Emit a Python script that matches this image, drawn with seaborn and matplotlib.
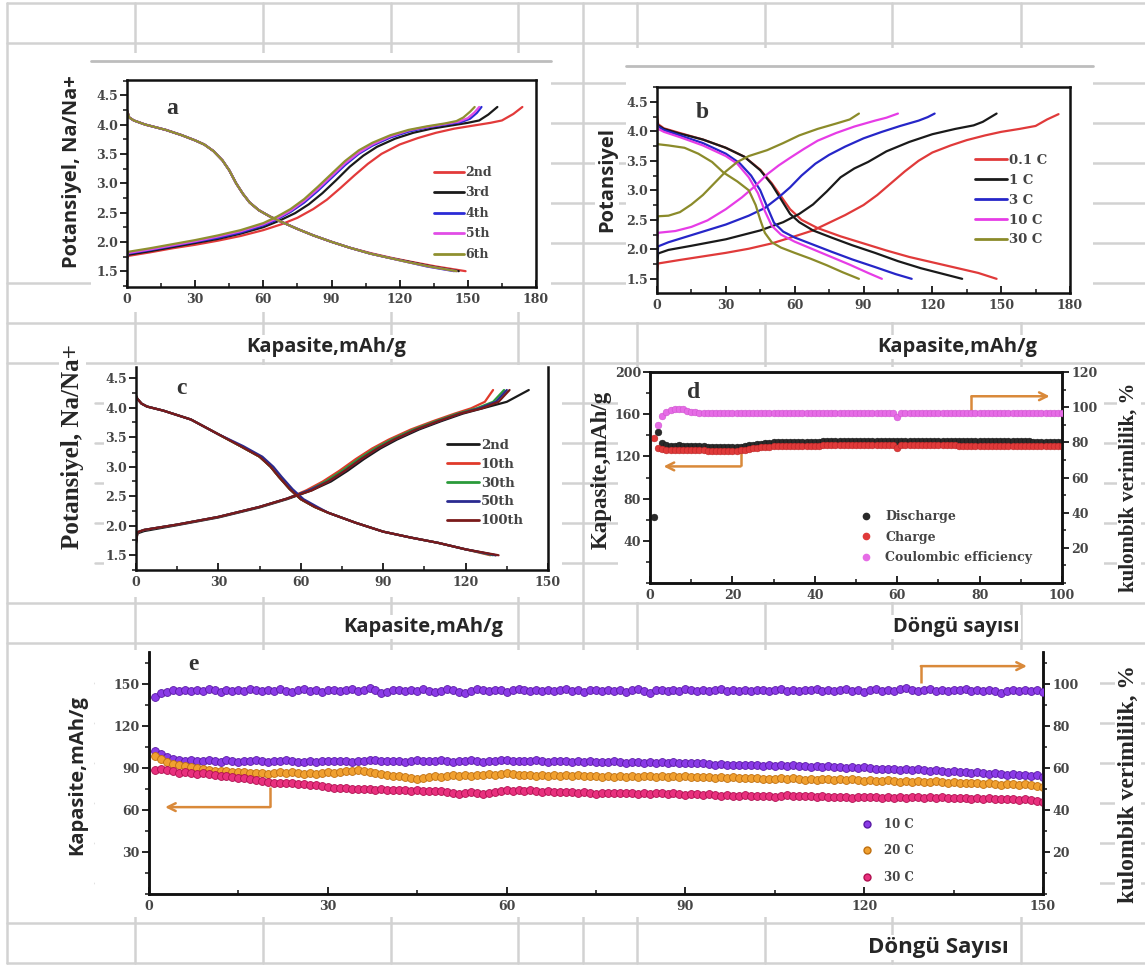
import numpy as np
import pandas as pd
import matplotlib
matplotlib.use("Agg")
import matplotlib.pyplot as plt
import seaborn as sns
from matplotlib.lines import Line2D
from matplotlib.patches import Rectangle
from matplotlib.ticker import MultipleLocator, FormatStrFormatter, FixedLocator

sns.set_theme(style="white")
plt.rcParams["font.family"] = ["DejaVu Serif"]
plt.rcParams["font.weight"] = "bold"

# ======================= DATA =======================
# ---- panel a : charge/discharge profiles, cycles 2-6 ----
A_CYCLES = ["2nd", "3rd", "4th", "5th", "6th"]
A_COLORS = ["#e23a3a", "#1a1a1a", "#2b2bd6", "#e14de6", "#8f9030"]
A_CHG_X_2 = [0, 0.5, 10, 20, 30, 40, 50, 60, 68, 75, 82, 88, 94, 100, 106, 112, 120, 128, 136, 144, 152, 160, 165, 170, 174]
A_CHG_V_2 = [1.7, 1.76, 1.82, 1.89, 1.95, 2.02, 2.1, 2.2, 2.3, 2.41, 2.56, 2.72, 2.92, 3.13, 3.33, 3.5, 3.66, 3.77, 3.86, 3.93, 3.98, 4.03, 4.07, 4.18, 4.3]
A_CHG_X_3 = [0, 0.5, 10, 20, 30, 40, 50, 60, 67, 74, 80, 86, 92, 98, 104, 110, 118, 126, 134, 142, 150, 155, 159, 163]
A_CHG_V_3 = [1.72, 1.78, 1.84, 1.91, 1.98, 2.05, 2.14, 2.25, 2.36, 2.49, 2.64, 2.83, 3.05, 3.28, 3.47, 3.62, 3.76, 3.86, 3.93, 3.98, 4.03, 4.07, 4.17, 4.3]
A_CHG_X_4 = [0, 0.5, 10, 20, 30, 40, 50, 60, 66, 72, 78, 84, 90, 96, 102, 108, 116, 124, 132, 140, 147, 151, 154, 156]
A_CHG_V_4 = [1.73, 1.8, 1.86, 1.93, 2.0, 2.07, 2.16, 2.28, 2.38, 2.51, 2.67, 2.87, 3.09, 3.31, 3.5, 3.64, 3.78, 3.88, 3.95, 4.0, 4.04, 4.1, 4.2, 4.3]
A_CHG_X_5 = [0, 0.5, 10, 20, 30, 40, 50, 60, 66, 72, 78, 84, 90, 96, 102, 108, 116, 124, 132, 140, 146, 150, 153, 155]
A_CHG_V_5 = [1.74, 1.81, 1.87, 1.94, 2.01, 2.09, 2.18, 2.3, 2.4, 2.53, 2.7, 2.9, 3.12, 3.34, 3.52, 3.66, 3.8, 3.9, 3.96, 4.01, 4.05, 4.11, 4.21, 4.3]
A_CHG_X_6 = [0, 0.5, 10, 20, 30, 40, 50, 60, 66, 72, 78, 84, 90, 96, 102, 108, 116, 124, 132, 140, 145, 148, 151, 153]
A_CHG_V_6 = [1.76, 1.83, 1.89, 1.96, 2.03, 2.11, 2.2, 2.32, 2.43, 2.56, 2.73, 2.94, 3.16, 3.38, 3.56, 3.69, 3.82, 3.91, 3.97, 4.02, 4.06, 4.12, 4.22, 4.3]
A_DIS_V = [4.24, 4.12, 4.07, 4.0, 3.91, 3.82, 3.73, 3.66, 3.55, 3.39, 3.22, 3.0, 2.82, 2.67, 2.54, 2.43, 2.34, 2.22, 2.11, 2.0, 1.9, 1.8, 1.73, 1.66, 1.58, 1.5]
A_DIS_X_2 = [0, 1, 3, 8, 17, 24, 30, 34, 38, 42, 45, 48, 51, 54, 58, 63, 68, 75, 82, 90, 98, 108, 116, 125, 136, 149]
A_DIS_X_3 = [0, 1, 3, 8, 17, 24, 30, 34, 38, 42, 45, 48, 51, 54, 58, 63, 68, 75, 82, 90, 98, 107, 115, 124, 134, 146]
A_DIS_X_4 = [0, 1, 3, 8, 17, 24, 30, 34, 38, 42, 45, 48, 51, 54, 58, 63, 68, 75, 82, 90, 98, 107, 115, 123, 132, 144]
A_DIS_X_5 = [0, 1, 3, 8, 17, 24, 30, 34, 38, 42, 45, 48, 51, 54, 58, 63, 68, 75, 82, 90, 98, 107, 115, 123, 133, 145]
A_DIS_X_6 = [0, 1, 3, 8, 17, 24, 30, 34, 38, 42, 45, 48, 51, 54, 58, 63, 68, 75, 82, 90, 98, 107, 115, 123, 133, 145]

# ---- panel b : rate profiles ----
B_RATES = ["0.1 C", "1 C", "3 C", "10 C", "30 C"]
B_COLORS = ["#e03a3a", "#1a1a1a", "#2626c8", "#e63ce6", "#8b8b2a"]
B_CHG_X_01 = [0, 0.5, 10, 20, 30, 40, 50, 60, 68, 75, 82, 90, 96, 102, 108, 114, 120, 128, 135, 143, 150, 158, 165, 170, 175]
B_CHG_V_01 = [1.62, 1.76, 1.82, 1.88, 1.94, 2.01, 2.1, 2.22, 2.32, 2.45, 2.58, 2.75, 2.92, 3.12, 3.32, 3.5, 3.64, 3.76, 3.85, 3.93, 3.99, 4.04, 4.09, 4.2, 4.29]
B_CHG_X_1 = [0, 0.5, 5, 15, 30, 45, 55, 62, 68, 74, 80, 86, 92, 100, 110, 120, 130, 138, 142, 145, 148]
B_CHG_V_1 = [1.75, 1.93, 1.99, 2.06, 2.17, 2.32, 2.46, 2.6, 2.76, 2.98, 3.22, 3.37, 3.48, 3.66, 3.82, 3.95, 4.04, 4.1, 4.16, 4.23, 4.3]
B_CHG_X_3 = [0, 0.5, 5, 15, 30, 40, 47, 53, 58, 63, 69, 75, 82, 90, 98, 106, 114, 118, 121]
B_CHG_V_3 = [1.85, 2.05, 2.12, 2.24, 2.42, 2.57, 2.7, 2.88, 3.05, 3.25, 3.45, 3.6, 3.74, 3.88, 3.99, 4.09, 4.18, 4.24, 4.3]
B_CHG_X_10 = [0, 0.5, 8, 15, 22, 30, 37, 43, 48, 53, 58, 64, 70, 78, 86, 95, 100, 105]
B_CHG_V_10 = [2.15, 2.28, 2.31, 2.38, 2.49, 2.68, 2.88, 3.08, 3.27, 3.42, 3.55, 3.7, 3.84, 3.97, 4.08, 4.18, 4.23, 4.3]
B_CHG_X_30 = [0, 0.5, 5, 10, 15, 20, 25, 30, 35, 40, 48, 55, 62, 70, 78, 84, 88]
B_CHG_V_30 = [2.45, 2.56, 2.57, 2.63, 2.76, 2.92, 3.12, 3.32, 3.48, 3.58, 3.68, 3.8, 3.93, 4.04, 4.13, 4.2, 4.3]
B_DIS_X_01 = [0, 0.5, 3, 10, 20, 30, 38, 45, 50, 54, 58, 63, 70, 80, 90, 100, 110, 120, 130, 140, 148]
B_DIS_V_01 = [4.28, 4.12, 4.05, 3.97, 3.86, 3.72, 3.57, 3.35, 3.12, 2.9, 2.68, 2.5, 2.36, 2.22, 2.1, 1.98, 1.87, 1.78, 1.69, 1.6, 1.5]
B_DIS_X_1 = [0, 0.5, 3, 10, 20, 30, 38, 45, 50, 54, 58, 62, 68, 76, 85, 95, 105, 115, 125, 133]
B_DIS_V_1 = [4.2, 4.1, 4.04, 3.96, 3.86, 3.72, 3.57, 3.34, 3.1, 2.85, 2.6, 2.46, 2.32, 2.2, 2.07, 1.94, 1.8, 1.68, 1.58, 1.5]
B_DIS_X_3 = [0, 0.5, 3, 10, 20, 30, 36, 41, 45, 48, 51, 55, 60, 68, 76, 85, 95, 104, 111]
B_DIS_V_3 = [4.15, 4.08, 4.02, 3.93, 3.8, 3.62, 3.46, 3.25, 3.0, 2.72, 2.45, 2.3, 2.2, 2.08, 1.96, 1.83, 1.7, 1.58, 1.5]
B_DIS_X_10 = [0, 0.5, 3, 10, 20, 30, 35, 40, 44, 47, 50, 54, 60, 68, 76, 84, 92, 98]
B_DIS_V_10 = [4.1, 4.04, 3.99, 3.9, 3.76, 3.58, 3.45, 3.22, 2.95, 2.65, 2.4, 2.25, 2.13, 2.0, 1.87, 1.74, 1.6, 1.5]
B_DIS_X_30 = [0, 0.5, 5, 12, 18, 24, 29, 35, 40, 43, 45, 47, 50, 54, 60, 67, 74, 81, 88]
B_DIS_V_30 = [3.8, 3.78, 3.76, 3.72, 3.62, 3.48, 3.3, 3.15, 3.0, 2.75, 2.5, 2.28, 2.12, 2.03, 1.94, 1.84, 1.73, 1.61, 1.5]

# ---- panel c : long cycling profiles ----
C_CYCLES = ["2nd", "10th", "30th", "50th", "100th"]
C_COLORS = ["#1a1a1a", "#e03a2a", "#2a9a3a", "#2a2a90", "#7a1a1a"]
C_CHG_V_2 = [1.7, 1.87, 1.91, 2.01, 2.14, 2.31, 2.45, 2.6, 2.75, 2.93, 3.13, 3.31, 3.46, 3.63, 3.77, 3.9, 4.0, 4.1, 4.3]
C_CHG_V = [1.72, 1.89, 1.93, 2.02, 2.15, 2.32, 2.46, 2.6, 2.75, 2.93, 3.13, 3.31, 3.46, 3.63, 3.77, 3.9, 3.99, 4.1, 4.3]
C_CHG_X_2 = [0, 0.5, 3, 15, 30, 45, 55, 64, 71, 77, 83, 89, 95, 103, 111, 119, 127, 135, 143]
C_CHG_X_10 = [0, 0.5, 3, 15, 30, 45, 55, 62, 68, 74, 80, 86, 92, 100, 108, 116, 122, 127, 130]
C_CHG_X_30 = [0, 0.5, 3, 15, 30, 45, 55, 63, 69, 75, 81, 87, 93, 101, 109, 117, 124, 130, 134]
C_CHG_X_50 = [0, 0.5, 3, 15, 30, 45, 55, 63, 70, 76, 82, 88, 94, 102, 110, 118, 125, 131, 135]
C_CHG_X_100 = [0, 0.5, 3, 15, 30, 45, 55, 64, 70, 76, 82, 88, 94, 102, 110, 118, 126, 132, 136]
C_DIS_V = [4.2, 4.15, 4.07, 4.02, 3.95, 3.8, 3.55, 3.35, 3.17, 3.0, 2.83, 2.62, 2.45, 2.32, 2.22, 2.05, 1.9, 1.8, 1.71, 1.6, 1.5]
C_DIS_X_2 = [0, 0.5, 2, 4, 10, 20, 30, 38, 45, 49, 52, 56, 60, 65, 70, 80, 90, 100, 110, 120, 131]
C_DIS_X_10 = [0, 0.5, 2, 4, 10, 20, 30, 38, 45, 49, 52, 56, 60, 65, 70, 80, 90, 100, 110, 120, 129]
C_DIS_X_30 = [0, 0.5, 2, 4, 10, 20, 30, 38, 45, 49, 52, 56, 60, 65, 70, 80, 90, 100, 110, 120, 130]
C_DIS_X_50 = [0, 0.5, 2, 4, 10, 20, 30, 39, 46, 50, 53, 57, 61, 66, 70, 80, 90, 100, 110, 120, 131]
C_DIS_X_100 = [0, 0.5, 2, 4, 10, 20, 30, 38, 45, 49, 52, 56, 60, 65, 70, 80, 90, 100, 110, 120, 132]

# ---- panel d : cycling at low rate (100 cycles) ----
D_DISCHARGE = [63, 143, 133, 131, 130, 130, 130.5, 130, 130, 129.8,
               129.5, 129.6, 129.4, 129.3, 129.2, 129.0, 129.1, 128.9, 129.0, 128.8,
               129.0, 129.3, 129.8, 130.4, 131.0, 131.6, 132.1, 132.6, 133.0, 133.2,
               133.4, 133.5, 133.6, 133.7, 133.8, 133.8, 133.9, 134.0, 134.0, 134.1,
               134.1, 134.2, 134.2, 134.3, 134.3, 134.3, 134.4, 134.4, 134.4, 134.5,
               134.5, 134.5, 134.5, 134.6, 134.6, 134.6, 134.6, 134.7, 134.7, 134.2,
               134.7, 134.7, 134.8, 134.8, 134.8, 134.8, 134.8, 134.9, 134.9, 134.9,
               134.9, 134.8, 134.8, 134.8, 134.7, 134.7, 134.7, 134.6, 134.6, 134.6,
               134.5, 134.5, 134.5, 134.4, 134.4, 134.4, 134.3, 134.3, 134.3, 134.2,
               134.2, 134.2, 134.1, 134.1, 134.1, 134.0, 134.0, 134.0, 133.9, 133.9]
D_CHARGE = [137, 128, 127, 126.5, 126.2, 126.0, 126.0, 125.9, 125.8, 125.8,
            125.7, 125.6, 125.6, 125.5, 125.5, 125.4, 125.4, 125.3, 125.3, 125.3,
            125.5, 125.8, 126.3, 126.9, 127.5, 128.1, 128.6, 129.0, 129.3, 129.5,
            129.7, 129.8, 129.9, 130.0, 130.1, 130.1, 130.2, 130.2, 130.3, 130.3,
            130.3, 130.4, 130.4, 130.4, 130.5, 130.5, 130.5, 130.5, 130.6, 130.6,
            130.6, 130.6, 130.6, 130.7, 130.7, 130.7, 130.7, 130.7, 130.7, 127.6,
            130.7, 130.7, 130.6, 130.6, 130.6, 130.6, 130.5, 130.5, 130.5, 130.5,
            130.4, 130.4, 130.4, 130.4, 130.3, 130.3, 130.3, 130.3, 130.2, 130.2,
            130.2, 130.2, 130.1, 130.1, 130.1, 130.1, 130.0, 130.0, 130.0, 130.0,
            129.9, 129.9, 129.9, 129.9, 129.8, 129.8, 129.8, 129.8, 129.7, 129.7]
D_CE = [np.nan, 89.7, 94.9, 97.3, 98.3, 99.0, 99.2, 98.8, 97.9, 97.3,
        97.0, 96.9, 96.8, 96.8, 96.7, 96.8, 96.7, 96.8, 96.7, 96.8,
        96.8, 96.7, 96.8, 96.8, 96.9, 96.8, 96.9, 96.8, 96.9, 96.9,
        96.8, 96.9, 96.8, 96.9, 96.8, 96.9, 96.8, 96.8, 96.9, 96.8,
        96.8, 96.9, 96.8, 96.8, 96.9, 96.8, 96.8, 96.9, 96.8, 96.8,
        96.9, 96.8, 96.8, 96.8, 96.9, 96.8, 96.8, 96.7, 96.8, 94.3,
        96.4, 96.6, 96.7, 96.8, 96.8, 96.9, 96.8, 96.8, 96.9, 96.8,
        96.8, 96.9, 96.8, 96.8, 96.8, 96.9, 96.8, 96.8, 96.9, 96.8,
        96.8, 96.8, 96.9, 96.8, 96.8, 96.8, 96.9, 96.8, 96.8, 96.8,
        96.9, 96.8, 96.8, 96.8, 96.9, 96.8, 96.8, 96.8, 96.9, 96.8]

# ---- panel e : high-rate cycling (150 cycles) ----
E_CE_10C = [93.8, 95.6, 96.4, 97.2, 96.8, 97.4, 96.9, 97.3, 96.6, 97.5,
            97.0, 96.5, 97.4, 96.8, 97.2, 96.6, 97.6, 97.0, 96.7, 97.3,
            96.8, 97.5, 96.9, 96.4, 97.1, 97.6, 96.8, 97.2, 96.5, 97.0,
            97.3, 96.7, 97.1, 97.6, 96.9, 97.4, 98.3, 97.2, 96.0, 96.5,
            97.0, 97.4, 96.8, 97.3, 96.6, 97.5, 96.9, 96.2, 96.7, 97.6,
            97.2, 96.4, 95.8, 96.9, 97.7, 97.3, 96.8, 97.4, 97.0, 96.5,
            97.1, 97.8, 97.2, 96.6, 97.3, 96.9, 97.4, 96.7, 97.2, 97.5,
            96.8, 97.1, 96.5, 97.3, 97.0, 96.6, 97.4, 96.9, 97.2, 96.4,
            97.0, 97.5, 96.8, 95.9, 97.1, 97.4, 96.9, 97.3, 96.7, 97.6,
            97.1, 96.6, 97.3, 96.9, 97.2, 97.5, 96.8, 97.1, 96.7, 97.3,
            96.9, 97.4, 97.0, 96.6, 97.2, 97.6, 96.9, 97.3, 96.6, 97.4,
            97.0, 97.5, 96.7, 97.2, 96.8, 97.4, 97.7, 96.9, 97.2, 96.5,
            97.1, 97.6, 96.8, 97.3, 96.9, 97.5, 98.2, 97.4, 96.7, 97.2,
            97.6, 96.9, 97.3, 96.6, 97.4, 97.0, 97.5, 96.8, 97.2, 96.9,
            97.4, 96.7, 95.6, 96.9, 97.3, 96.8, 97.2, 96.6, 97.0, 96.4]
E_CAP_10C = [102.5, 100.2, 98.0, 96.6, 95.8, 95.2, 96.0, 95.4, 94.8, 95.6,
             95.1, 94.6, 95.5, 95.0, 94.7, 95.4, 94.9, 95.6, 95.0, 94.6,
             95.3, 94.8, 95.5, 94.9, 94.4, 94.7, 95.2, 94.6, 94.9, 95.3,
             94.8, 95.4, 95.0, 94.7, 95.3, 94.9, 95.6, 96.0, 95.2, 94.8,
             95.4, 95.0, 94.5, 95.1, 95.6, 94.9, 95.3, 94.8, 95.5, 95.0,
             94.6, 95.2, 94.8, 95.5, 95.1, 94.7, 95.4, 95.0, 95.6, 96.1,
             95.4, 94.9, 95.3, 94.8, 95.5, 95.0, 94.7, 95.3, 94.9, 95.2,
             94.6, 95.1, 94.5, 94.9, 94.3, 94.7, 94.2, 94.8, 94.4, 94.0,
             94.5, 94.1, 93.8, 94.3, 93.9, 94.4, 93.7, 94.1, 93.6, 94.0,
             93.5, 93.9, 93.4, 92.8, 92.3, 92.7, 92.1, 92.5, 92.0, 92.4,
             91.9, 92.3, 91.8, 92.2, 91.6, 92.0, 91.5, 91.9, 91.3, 91.7,
             91.1, 91.5, 90.9, 91.3, 90.7, 91.1, 90.4, 90.8, 90.2, 90.6,
             89.9, 89.3, 89.7, 89.1, 89.5, 88.9, 89.3, 88.7, 89.1, 88.4,
             88.0, 88.5, 87.8, 87.2, 87.6, 87.0, 87.4, 86.7, 87.1, 86.4,
             86.0, 86.5, 85.7, 85.2, 85.6, 84.8, 85.2, 84.5, 84.9, 83.6]
E_CAP_20C = [98.5, 96.2, 94.3, 93.0, 92.1, 91.4, 90.6, 89.8, 89.2, 88.6,
             88.0, 87.6, 88.2, 87.4, 86.9, 87.5, 86.8, 86.2, 86.7, 86.0,
             86.6, 87.2, 86.5, 87.0, 86.3, 85.8, 86.4, 85.9, 86.5, 87.0,
             86.4, 87.1, 87.6, 88.1, 88.6, 87.9, 87.3, 86.6, 85.9, 85.2,
             84.6, 84.0, 83.4, 82.9, 82.4, 83.1, 83.8, 84.4, 83.9, 84.6,
             85.1, 84.5, 85.2, 84.7, 85.4, 84.9, 85.5, 85.0, 85.8, 86.3,
             86.0, 85.4, 84.8, 85.3, 84.7, 85.2, 84.5, 85.0, 84.4, 84.9,
             84.3, 84.8, 84.2, 84.7, 84.1, 83.6, 84.2, 83.7, 84.3, 83.8,
             84.4, 83.9, 84.5, 84.0, 83.5, 84.1, 83.6, 84.2, 83.7, 84.3,
             83.8, 83.3, 83.9, 83.4, 82.9, 83.5, 83.0, 83.6, 83.1, 82.6,
             83.2, 82.7, 81.9, 82.5, 82.0, 82.6, 82.1, 82.7, 82.2, 81.7,
             82.3, 81.8, 82.4, 81.9, 81.4, 82.0, 81.5, 82.1, 81.6, 81.1,
             81.6, 81.0, 80.6, 81.2, 80.7, 80.2, 80.8, 80.3, 80.9, 80.4,
             79.9, 80.5, 80.0, 79.5, 80.1, 79.6, 79.1, 79.7, 79.2, 78.7,
             79.3, 78.7, 78.2, 78.8, 78.3, 77.8, 78.4, 77.9, 77.3, 76.8]
E_CAP_30C = [88.5, 89.6, 88.8, 87.9, 86.6, 87.3, 86.5, 85.8, 86.3, 85.5,
             84.8, 84.2, 84.7, 83.9, 83.2, 82.6, 82.0, 81.3, 80.7, 80.0,
             79.5, 79.0, 79.6, 79.1, 78.5, 78.9, 78.2, 77.6, 77.0, 76.4,
             76.0, 75.5, 75.8, 75.2, 74.8, 75.3, 74.9, 74.5, 75.0, 74.6,
             74.2, 74.7, 74.3, 73.8, 74.3, 73.9, 73.4, 73.9, 73.5, 72.8,
             72.2, 71.5, 72.3, 73.0, 72.1, 71.6, 72.5, 73.2, 73.8, 74.3,
             73.7, 74.2, 73.6, 74.1, 73.5, 73.0, 73.6, 73.1, 72.6, 73.1,
             72.6, 72.1, 72.7, 72.2, 71.8, 72.3, 71.9, 72.4, 72.0, 72.5,
             72.1, 71.7, 72.2, 71.8, 72.3, 71.9, 71.5, 72.0, 71.6, 71.1,
             71.6, 71.2, 70.8, 71.3, 70.9, 70.4, 70.9, 69.8, 70.3, 70.8,
             70.3, 69.9, 70.4, 70.0, 69.5, 70.1, 70.6, 70.2, 69.8, 70.3,
             69.9, 69.5, 70.0, 69.6, 69.1, 69.7, 69.3, 68.9, 69.4, 69.0,
             69.5, 69.1, 68.7, 69.2, 68.8, 69.3, 68.9, 69.4, 69.0, 68.6,
             69.1, 68.7, 69.2, 68.8, 68.3, 68.8, 68.4, 67.9, 68.4, 68.0,
             68.5, 68.1, 67.6, 68.1, 67.7, 67.2, 67.7, 67.3, 66.6, 65.8]
E_RATES = ["10 C", "20 C", "30 C"]
E_COLORS = ["#8a3ae6", "#f0a030", "#e8307e"]
E_EDGES = ["#5a1aa6", "#c07010", "#b01050"]

# arrows (data coords) : [x-vertical, y-start, y-corner, x-end]
D_ARROW_R = [78, 162, 177, 97]
D_ARROW_L = [22, 127.6, 110.5, 3.3]
E_ARROW_R = [129.5, 150.7, 162.9, 147.3]
E_ARROW_L = [20.3, 76.4, 62.1, 2.7]

# ======================= FIGURE =======================
W, H = 1145, 966
fig = plt.figure(figsize=(W / 100, H / 100), dpi=100)
fig.patch.set_facecolor("white")


def fx(px):
    return px / W


def fy(py):
    return 1 - py / H


def pbox(x0, y0, x1, y1):
    return [x0 / W, 1 - y1 / H, (x1 - x0) / W, (y1 - y0) / H]


GRID = "#d2d2d2"
# word-table grid behind the pictures
LEFT_ROWS = [3, 43, 283, 323, 363, 603, 643, 923, 963]
for k in range(25):
    yy = 3 + 40 * k
    x_start = 7 if yy in LEFT_ROWS else 95
    fig.add_artist(Line2D([fx(x_start), 1.0], [fy(yy), fy(yy)], color=GRID, lw=1.8, zorder=-3))
for xx in [7, 135, 263, 391, 518, 583, 637, 765, 892, 1021]:
    fig.add_artist(Line2D([fx(xx), fx(xx)], [fy(3), fy(963)], color=GRID, lw=1.8, zorder=-3))

# pictures (white backgrounds)
for b in [(91, 53, 551, 312), (626, 48, 1093, 322), (104, 365, 562, 597),
          (618, 367, 1104, 602), (95, 650, 1100, 917)]:
    r = pbox(*b)
    fig.add_artist(Rectangle((r[0], r[1]), r[2], r[3], transform=fig.transFigure,
                             facecolor="white", edgecolor="none", zorder=-2))
fig.add_artist(Line2D([fx(91), fx(551)], [fy(61), fy(61)], color="#bdbdbd", lw=2, zorder=-1))
fig.add_artist(Line2D([fx(626), fx(1093)], [fy(66), fy(66)], color="#bdbdbd", lw=2, zorder=-1))

TICKC = "#454545"
TICKFS = 9


def style(ax, xlim, ylim, xmaj, xmin, ymaj, ymin, yfmt, hide_top=False):
    ax.set_xlim(*xlim)
    ax.set_ylim(*ylim)
    ax.xaxis.set_major_locator(MultipleLocator(xmaj))
    ax.xaxis.set_minor_locator(MultipleLocator(xmin))
    ax.yaxis.set_major_locator(FixedLocator(ymaj))
    ax.yaxis.set_minor_locator(MultipleLocator(ymin))
    ax.yaxis.set_major_formatter(FormatStrFormatter(yfmt))
    ax.tick_params(axis="x", which="major", direction="in", length=5, width=1.4,
                   labelsize=TICKFS, labelcolor=TICKC, pad=4, bottom=True)
    ax.tick_params(axis="x", which="minor", direction="in", length=3, width=1.2, bottom=True)
    ax.tick_params(axis="y", which="major", direction="out", length=5, width=1.4,
                   labelsize=TICKFS, labelcolor=TICKC, pad=1.5, left=True)
    ax.tick_params(axis="y", which="minor", direction="out", length=3, width=1.2, left=True)
    for s in ax.spines.values():
        s.set_linewidth(1.8)
        s.set_color("#111111")
    if hide_top:
        ax.spines["top"].set_visible(False)
    ax.set_xlabel("")
    ax.set_ylabel("")
    ax.grid(False)
    ax.set_facecolor("white")


def style_right(ax2, ylim, ymaj, ymin, hide_top=False):
    ax2.set_ylim(*ylim)
    ax2.yaxis.set_major_locator(FixedLocator(ymaj))
    ax2.yaxis.set_minor_locator(MultipleLocator(ymin))
    ax2.tick_params(axis="y", which="major", direction="out", length=5, width=1.4, labelsize=TICKFS,
                    labelcolor=TICKC, pad=1.5, right=True)
    ax2.tick_params(axis="y", which="minor", direction="out", length=3, width=1.2, right=True)
    ax2.set_ylabel("")
    ax2.set_xlabel("")
    ax2.grid(False)
    for s in ax2.spines.values():
        s.set_linewidth(1.8)
        s.set_color("#111111")
    if hide_top:
        ax2.spines["top"].set_visible(False)


def profile_df(names, chg_x, chg_v, dis_x, dis_v):
    rows = []
    for n, cx, cv, dx, dv in zip(names, chg_x, chg_v, dis_x, dis_v):
        rows += [(n, "charge", x, v) for x, v in zip(cx, cv)]
        rows += [(n, "discharge", x, v) for x, v in zip(dx, dv)]
    return pd.DataFrame(rows, columns=["cycle", "branch", "cap", "V"])


def profile_legend(ax, names, colors, anchor, spacing, fs):
    handles = [Line2D([], [], color=c, lw=2) for c in colors]
    ax.legend(handles, names, loc="upper left", bbox_to_anchor=anchor, frameon=False,
              handlelength=2.4, handletextpad=0.15, labelspacing=spacing, borderpad=0,
              borderaxespad=0, prop={"family": "DejaVu Serif", "weight": "bold", "size": fs},
              labelcolor="#444444")


# ---------------- panel a ----------------
axa = fig.add_axes(pbox(127, 80, 536, 287))
dfa = profile_df(A_CYCLES,
                 [A_CHG_X_2, A_CHG_X_3, A_CHG_X_4, A_CHG_X_5, A_CHG_X_6],
                 [A_CHG_V_2, A_CHG_V_3, A_CHG_V_4, A_CHG_V_5, A_CHG_V_6],
                 [A_DIS_X_2, A_DIS_X_3, A_DIS_X_4, A_DIS_X_5, A_DIS_X_6],
                 [A_DIS_V] * 5)
sns.lineplot(data=dfa, x="cap", y="V", hue="cycle", units="branch", estimator=None, sort=False,
             hue_order=A_CYCLES, palette=dict(zip(A_CYCLES, A_COLORS)), lw=1.6, ax=axa, legend=False)
style(axa, (0, 180), (1.23, 4.76), 30, 15, [1.5, 2.0, 2.5, 3.0, 3.5, 4.0, 4.5], 0.25, "%.1f")
profile_legend(axa, A_CYCLES, A_COLORS, (0.75, 0.585), 0.6, 9)

# ---------------- panel b ----------------
axb = fig.add_axes(pbox(657, 87, 1070, 293))
dfb = profile_df(B_RATES,
                 [B_CHG_X_01, B_CHG_X_1, B_CHG_X_3, B_CHG_X_10, B_CHG_X_30],
                 [B_CHG_V_01, B_CHG_V_1, B_CHG_V_3, B_CHG_V_10, B_CHG_V_30],
                 [B_DIS_X_01, B_DIS_X_1, B_DIS_X_3, B_DIS_X_10, B_DIS_X_30],
                 [B_DIS_V_01, B_DIS_V_1, B_DIS_V_3, B_DIS_V_10, B_DIS_V_30])
sns.lineplot(data=dfb, x="cap", y="V", hue="cycle", units="branch", estimator=None, sort=False,
             hue_order=B_RATES, palette=dict(zip(B_RATES, B_COLORS)), lw=1.6, ax=axb, legend=False)
style(axb, (0, 180), (1.26, 4.75), 30, 15, [1.5, 2.0, 2.5, 3.0, 3.5, 4.0, 4.5], 0.25, "%.1f")
profile_legend(axb, B_RATES, B_COLORS, (0.77, 0.675), 0.52, 9.5)

# ---------------- panel c ----------------
axc = fig.add_axes(pbox(136, 367, 548, 570))
dfc = profile_df(C_CYCLES,
                 [C_CHG_X_2, C_CHG_X_10, C_CHG_X_30, C_CHG_X_50, C_CHG_X_100],
                 [C_CHG_V_2, C_CHG_V, C_CHG_V, C_CHG_V, C_CHG_V],
                 [C_DIS_X_2, C_DIS_X_10, C_DIS_X_30, C_DIS_X_50, C_DIS_X_100],
                 [C_DIS_V] * 5)
sns.lineplot(data=dfc, x="cap", y="V", hue="cycle", units="branch", estimator=None, sort=False,
             hue_order=C_CYCLES, palette=dict(zip(C_CYCLES, C_COLORS)), lw=1.6, ax=axc, legend=False)
style(axc, (0, 150), (1.25, 4.69), 30, 15, [1.5, 2.0, 2.5, 3.0, 3.5, 4.0, 4.5], 0.25, "%.1f",
      hide_top=True)
profile_legend(axc, C_CYCLES, C_COLORS, (0.755, 0.645), 0.44, 9.5)

# ---------------- panel d ----------------
axd = fig.add_axes(pbox(650, 372, 1062, 583))
cyc_d = np.arange(1, len(D_DISCHARGE) + 1)
sns.scatterplot(x=cyc_d, y=D_DISCHARGE, color="#2a2a2a", s=24, edgecolor="#111111", linewidth=0.3,
                ax=axd, zorder=3, legend=False)
sns.scatterplot(x=cyc_d, y=D_CHARGE, color="#e03a3a", s=24, edgecolor="#b02020", linewidth=0.3,
                ax=axd, zorder=4, legend=False)
style(axd, (0, 100), (0, 200), 20, 10, [40, 80, 120, 160, 200], 20, "%d")
axd2 = axd.twinx()
sns.scatterplot(x=cyc_d, y=D_CE, color="#e66ce6", s=24, edgecolor="#c84ac8", linewidth=0.3,
                ax=axd2, zorder=3, legend=False)
style_right(axd2, (0, 120), [20, 40, 60, 80, 100, 120], 10)
ORANGE = "#d9893a"


def elbow_arrow(ax, spec):
    xv, y0, y1, xe = spec
    ax.plot([xv, xv], [y0, y1], color=ORANGE, lw=1.8, solid_capstyle="butt")
    ax.annotate("", xy=(xe, y1), xytext=(xv, y1),
                arrowprops=dict(arrowstyle="->", color=ORANGE, lw=1.8, mutation_scale=14,
                                shrinkA=0, shrinkB=0))


elbow_arrow(axd, D_ARROW_R)
elbow_arrow(axd, D_ARROW_L)
d_handles = [Line2D([], [], ls="", marker="o", ms=4.5, color=c, mec=c) for c in ["#2a2a2a", "#e03a3a", "#e66ce6"]]
axd2.legend(d_handles, ["Discharge", "Charge", "Coulombic efficiency"], loc="upper left",
            bbox_to_anchor=(0.51, 0.345), frameon=False, handlelength=1.0, handletextpad=1.0,
            labelspacing=0.6, borderpad=0, borderaxespad=0,
            prop={"family": "DejaVu Serif", "weight": "bold", "size": 9}, labelcolor="#444444")

# ---------------- panel e ----------------
axe = fig.add_axes(pbox(149, 652, 1043, 894))
cyc_e = np.arange(1, len(E_CAP_10C) + 1)
dfe = pd.DataFrame({
    "cycle": np.concatenate([cyc_e, cyc_e, cyc_e]),
    "cap": np.concatenate([E_CAP_10C, E_CAP_20C, E_CAP_30C]),
    "rate": np.repeat(E_RATES, len(cyc_e)),
})
for rate, col, edge in zip(E_RATES, E_COLORS, E_EDGES):
    sub = dfe[dfe["rate"] == rate]
    sns.scatterplot(data=sub, x="cycle", y="cap", color=col, s=32, edgecolor=edge, linewidth=0.6,
                    ax=axe, zorder=3, legend=False)
style(axe, (0, 150), (0, 173), 30, 15, [30, 60, 90, 120, 150], 15, "%d", hide_top=True)
axe2 = axe.twinx()
sns.scatterplot(x=cyc_e, y=E_CE_10C, color=E_COLORS[0], s=32, edgecolor=E_EDGES[0], linewidth=0.6,
                ax=axe2, zorder=3, legend=False)
style_right(axe2, (0, 173 / 1.5), [20, 40, 60, 80, 100], 10, hide_top=True)
elbow_arrow(axe, E_ARROW_R)
elbow_arrow(axe, E_ARROW_L)
e_handles = [Line2D([], [], ls="", marker="o", ms=5, color=c, mec=e) for c, e in zip(E_COLORS, E_EDGES)]
axe2.legend(e_handles, E_RATES, loc="upper left", bbox_to_anchor=(0.797, 0.315), frameon=False,
            handlelength=1.0, handletextpad=0.9, labelspacing=1.15, borderpad=0, borderaxespad=0,
            prop={"family": "DejaVu Serif", "weight": "bold", "size": 8.5}, labelcolor="#444444")

# ---------------- texts ----------------
WB = dict(facecolor="white", edgecolor="none", pad=1.5)
SANS = ["Open Sans", "DejaVu Sans"]
SERIF = ["Liberation Serif", "DejaVu Serif"]


def ftxt(px, py, s, **kw):
    fig.text(fx(px), fy(py), s, ha="center", va="center", zorder=5, **kw)


# panel letters
for (px, py, s) in [(172, 108, "a"), (702, 112, "b"), (181, 388, "c"), (694, 393, "d"), (193, 665, "e")]:
    ftxt(px, py, s, family=SERIF, weight="bold", size=17, color="#333333")

ftxt(72, 172, "Potansiyel, Na/Na+", family=SANS, weight="bold", size=14.5, rotation=90, bbox=WB)
ftxt(326, 347, "Kapasite,mAh/g", family=SANS, weight="bold", size=14.5, bbox=WB)
ftxt(607, 180, "Potansiyel", family=SANS, weight="bold", size=14.5, rotation=90, bbox=WB)
ftxt(957, 347, "Kapasite,mAh/g", family=SANS, weight="bold", size=14.5, bbox=WB)
ftxt(72, 447, "Potansiyel, Na/Na+", family=SERIF, weight="bold", size=18, rotation=90, bbox=WB)
ftxt(423, 627, "Kapasite,mAh/g", family=SANS, weight="bold", size=14.5, bbox=WB)
ftxt(601, 470, "Kapasite,mAh/g", family=SERIF, weight="bold", size=16.5, rotation=90)
ftxt(1129, 487, "kulombik verimlilik, %", family=SERIF, weight="bold", size=15, rotation=90, bbox=WB)
ftxt(956, 627, "Döngü sayısı", family=SANS, weight="bold", size=14.5, bbox=WB)
ftxt(77, 775, "Kapasite,mAh/g", family=SANS, weight="bold", size=14.5, rotation=90, bbox=WB)
ftxt(1128, 784, "kulombik verimlilik, %", family=SERIF, weight="bold", size=17, rotation=90, bbox=WB)
ftxt(938, 947, "Döngü Sayısı", family=SANS, weight="bold", size=16, bbox=WB)

fig.savefig("out.png", dpi=100, facecolor="white")
